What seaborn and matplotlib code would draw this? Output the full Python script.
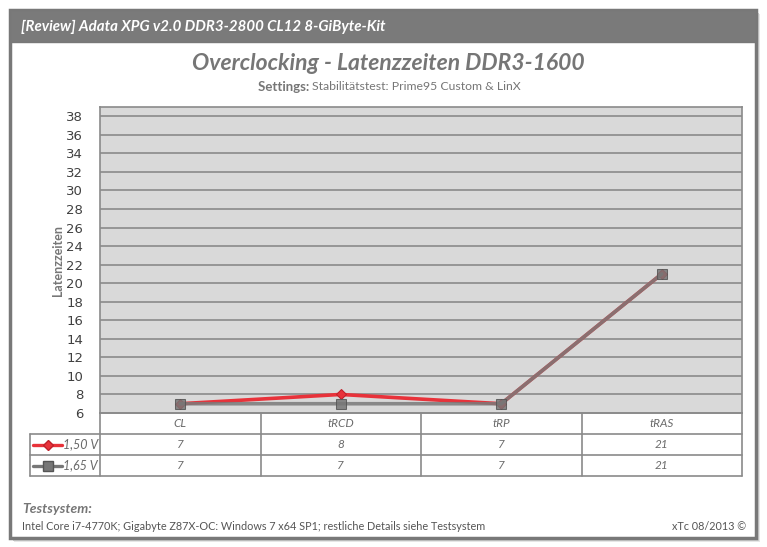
import matplotlib
matplotlib.use("Agg")
import matplotlib.pyplot as plt
from matplotlib.patches import Rectangle
import seaborn as sns
import pandas as pd

categories = ["CL", "tRCD", "tRP", "tRAS"]
series_names = ["1,50 V", "1,65 V"]
values_150 = [7, 8, 7, 21]
values_165 = [7, 7, 7, 21]
yticks = list(range(6, 40, 2))

title = "Overclocking - Latenzzeiten DDR3-1600"
header = "[Review] Adata XPG v2.0 DDR3-2800 CL12 8-GiByte-Kit"
settings_bold = "Settings:"
settings_text = "Stabilitätstest: Prime95 Custom & LinX"
ylabel = "Latenzzeiten"
foot_bold = "Testsystem:"
foot_text = "Intel Core i7-4770K; Gigabyte Z87X-OC: Windows 7 x64 SP1; restliche Details siehe Testsystem"
foot_right = "xTc 08/2013 ©"

sns.set_theme(style="white")
plt.rcParams['font.family'] = ['Lato', 'DejaVu Sans']

W, H = 767, 547
fig = plt.figure(figsize=(W / 100, H / 100), dpi=100)

# overlay in pixel coordinates
ov = fig.add_axes([0, 0, 1, 1], zorder=0)
ov.set_xlim(0, W)
ov.set_ylim(H, 0)
ov.axis("off")

# shadow + frame
for i, c in enumerate(["#e6e6e6", "#d0d0d0", "#b8b8b8"]):
    off = 4 - i
    ov.add_patch(Rectangle((10 + off, 10 + off), 746, 528, facecolor=c, edgecolor="none"))
ov.add_patch(Rectangle((10, 10), 746, 528, facecolor="white", edgecolor="#787878", lw=2.5))
ov.add_patch(Rectangle((10, 10), 746, 32, facecolor="#7a7a7a", edgecolor="#787878", lw=1))
ov.text(21, 27, header, color="white", fontsize=10.8, fontweight="bold", style="italic",
        va="center", ha="left")

gray_txt = "#767676"
ov.text(388, 64, title, color=gray_txt, fontsize=16.5, fontweight="bold", style="italic",
        ha="center", va="center")
ov.text(312, 87, settings_bold + " ", color=gray_txt, fontsize=9.5, fontweight="bold",
        ha="right", va="center")
ov.text(312, 87, settings_text, color=gray_txt, fontsize=8.8, ha="left", va="center")

ov.text(22, 509, foot_bold, color=gray_txt, fontsize=10, fontweight="bold", style="italic",
        ha="left", va="center")
ov.text(22, 527, foot_text, color="#555555", fontsize=7.85, ha="left", va="center")
ov.text(746, 527, foot_right, color="#555555", fontsize=7.8, ha="right", va="center")

# main axes
left_px, right_px, top_px, bot_px = 100, 742, 107, 413
ax = fig.add_axes([left_px / W, 1 - bot_px / H, (right_px - left_px) / W, (bot_px - top_px) / H], zorder=2)
ax.set_facecolor("#d9d9d9")

pos = list(range(len(categories)))
df150 = pd.DataFrame({"pos": pos, "value": values_150})
df165 = pd.DataFrame({"pos": pos, "value": values_165})

sns.lineplot(data=df150, x="pos", y="value", ax=ax, color="#e8323a", lw=2.6, marker="D",
             markersize=5.5, markeredgecolor="#c0202a", markerfacecolor="#e8323a", zorder=3)
sns.lineplot(data=df165, x="pos", y="value", ax=ax, color="#7a7a7a", lw=2.6, alpha=0.85, marker="s",
             markersize=7, markeredgecolor="#555555", markerfacecolor="#777777", zorder=4)

ax.set_xlim(-0.5, len(categories) - 0.5)
ax.set_ylim(6, 39)
ax.set_yticks(yticks)
ax.set_yticklabels([str(v) for v in yticks], fontsize=9.5, color="#404040", family="DejaVu Sans")
ax.tick_params(axis="y", length=0, pad=12)
ax.set_xticks([])
ax.set_xlabel("")
ax.set_ylabel(ylabel, fontsize=9, fontweight="bold", color=gray_txt, labelpad=2)
ax.grid(axis="y", color="#8a8a8a", lw=1.2)
ax.grid(axis="x", visible=False)
for s in ax.spines.values():
    s.set_color("#8a8a8a")
    s.set_linewidth(1.2)

# data table
lc = "#8a8a8a"
col_w = (right_px - left_px) / len(categories)
row_edges = [413, 434, 455, 476]
ov.plot([left_px, right_px], [row_edges[0], row_edges[0]], color=lc, lw=1.2)
for r in row_edges[1:]:
    ov.plot([30, right_px], [r, r], color=lc, lw=1.2)
ov.plot([30, 30], [row_edges[1], row_edges[3]], color=lc, lw=1.2)
for i in range(len(categories) + 1):
    x = left_px + i * col_w
    ov.plot([x, x], [row_edges[0], row_edges[3]], color=lc, lw=1.2)

cell_txt = "#6a6a6a"
for i, cat in enumerate(categories):
    xc = left_px + (i + 0.5) * col_w
    ov.text(xc, (row_edges[0] + row_edges[1]) / 2, cat, ha="center", va="center",
            fontsize=8.5, style="italic", color=cell_txt)
    ov.text(xc, (row_edges[1] + row_edges[2]) / 2, str(values_150[i]), ha="center", va="center",
            fontsize=8.5, style="italic", color=cell_txt)
    ov.text(xc, (row_edges[2] + row_edges[3]) / 2, str(values_165[i]), ha="center", va="center",
            fontsize=8.5, style="italic", color=cell_txt)

# legend keys
for r, (name, col, mk, ms, mfc) in enumerate([
        (series_names[0], "#e8323a", "D", 5, "#e8323a"),
        (series_names[1], "#777777", "s", 7, "#777777")]):
    yc = (row_edges[r + 1] + row_edges[r + 2]) / 2
    ov.plot([33, 62], [yc, yc], color=col, lw=2.4)
    ov.plot([47.5], [yc], marker=mk, markersize=ms, color=mfc, markeredgecolor="#555555" if r else "#c0202a")
    ov.text(98, yc, name, ha="right", va="center", fontsize=9, style="italic", color=cell_txt)

fig.savefig("out.png", dpi=100)
